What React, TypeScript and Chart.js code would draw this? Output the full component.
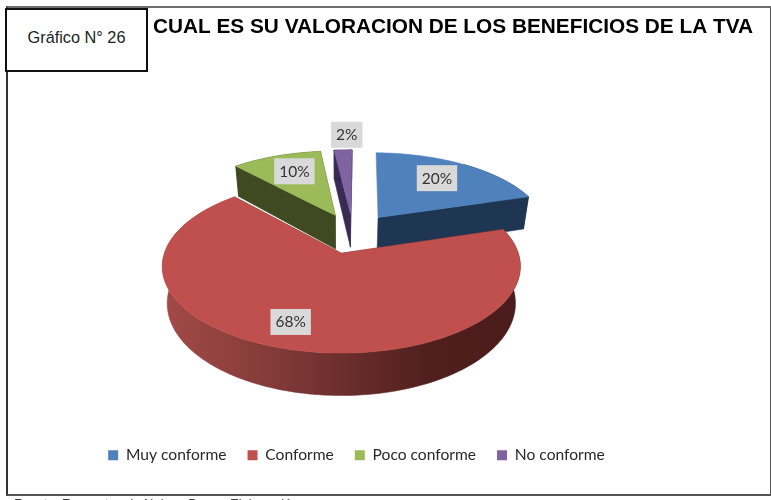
import React, { useEffect, useRef } from "react";
import { Chart, registerables } from "chart.js";

Chart.register(...registerables);

const categories = ["Muy conforme", "Conforme", "Poco conforme", "No conforme"];
const percentages = [20, 68, 10, 2];
const topColors = ["#4f81bd", "#c0504d", "#9bbb59", "#8064a2"];
const wallColors = ["#1f3652", "#5a2422", "#3f4a22", "#3a2b55"];
const chartTitle = "CUAL ES SU VALORACION DE LOS BENEFICIOS DE LA TVA";
const figureLabel = "Gráfico N° 26";
const sourceNote = "Fuente: Encuestas de Nelson Barros Elaboración";
const labelRadii = [0.72, 0.75, 0.72, 1.28];
const labelNudgeU = [-0.03, -0.055, 0.02, 0.04];

// Perspective of the pie plane, as seen in the picture
const ORIGIN_X = 342;
const ORIGIN_Y = 253.5;
const AXIS_X = 177;
const AXIS_Y = 84.7;
const PERSPECTIVE = 0.153;
const CENTER_U = 0.064;
const CENTER_V = -0.25;
const DEPTH = 36;
const BASE_SHRINK = 0.973;

type Pt = [number, number];

function top(u: number, v: number): Pt {
  const w = 1 - PERSPECTIVE * v;
  return [ORIGIN_X + (AXIS_X * u) / w, ORIGIN_Y + (AXIS_Y * v) / w];
}
function bottom(u: number, v: number): Pt {
  const w = 1 - PERSPECTIVE * v;
  const p = top(u, v);
  return [ORIGIN_X + (p[0] - ORIGIN_X) * BASE_SHRINK, p[1] + DEPTH / w];
}

function sliceGeometry(arc: any) {
  const { startAngle, endAngle, outerRadius } = arc.getProps(["startAngle", "endAngle", "outerRadius"], true);
  const mid = (startAngle + endAngle) / 2;
  const e = (arc.options.offset || 0) / 4 / outerRadius;
  const au = CENTER_U + Math.cos(mid) * e;
  const av = CENTER_V + Math.sin(mid) * e;
  return { startAngle, endAngle, mid, au, av };
}

function fillPoly(ctx: CanvasRenderingContext2D, pts: Pt[], fill: string | CanvasGradient) {
  ctx.beginPath();
  pts.forEach((p, i) => (i ? ctx.lineTo(p[0], p[1]) : ctx.moveTo(p[0], p[1])));
  ctx.closePath();
  ctx.fillStyle = fill;
  ctx.fill();
  ctx.strokeStyle = fill as any;
  ctx.lineWidth = 0.5;
  ctx.stroke();
}

const pie3d = {
  id: "pie3d",
  beforeDatasetDraw(chart: any) {
    const ctx: CanvasRenderingContext2D = chart.ctx;
    const arcs = chart.getDatasetMeta(0).data;
    const order = arcs
      .map((arc: any, i: number) => ({ i, g: sliceGeometry(arc) }))
      .sort((a: any, b: any) => a.g.av - b.g.av);
    ctx.save();
    for (const { i, g } of order) {
      const n = 160;
      const rimTop: Pt[] = [];
      const rimBottom: Pt[] = [];
      for (let k = 0; k <= n; k++) {
        const t = g.startAngle + ((g.endAngle - g.startAngle) * k) / n;
        const u = g.au + Math.cos(t);
        const v = g.av + Math.sin(t);
        rimTop.push(top(u, v));
        rimBottom.push(bottom(u, v));
      }
      const apexTop = top(g.au, g.av);
      const apexBottom = bottom(g.au, g.av);
      // radial walls: the first slice's leading wall faces away from the viewer
      if (i !== 0) fillPoly(ctx, [apexTop, rimTop[0], rimBottom[0], apexBottom], wallColors[i]);
      fillPoly(ctx, [apexTop, rimTop[n], rimBottom[n], apexBottom], wallColors[i]);
      // curved wall (the back half of the first slice is hidden under its top face)
      let wallFill: string | CanvasGradient = wallColors[i];
      if (i === 1) {
        const grad = ctx.createLinearGradient(ORIGIN_X - 180, 0, ORIGIN_X + 180, 0);
        grad.addColorStop(0, "#a34a47");
        grad.addColorStop(0.3, "#843b39");
        grad.addColorStop(0.55, "#652b2a");
        grad.addColorStop(0.75, "#4f1f1d");
        grad.addColorStop(1, "#4a1c1b");
        wallFill = grad;
      }
      const from = i === 0 ? n / 2 : 0;
      fillPoly(ctx, [...rimTop.slice(from), ...rimBottom.slice(from).reverse()], wallFill);
      // top face
      fillPoly(ctx, [apexTop, ...rimTop], topColors[i]);
    }
    ctx.restore();
    return false;
  },
  afterDatasetsDraw(chart: any) {
    const ctx: CanvasRenderingContext2D = chart.ctx;
    const arcs = chart.getDatasetMeta(0).data;
    ctx.save();
    ctx.font = '15.5px Lato, "Open Sans", sans-serif';
    ctx.textAlign = "center";
    ctx.textBaseline = "middle";
    arcs.forEach((arc: any, i: number) => {
      const g = sliceGeometry(arc);
      const r = labelRadii[i];
      const p = top(g.au + Math.cos(g.mid) * r + labelNudgeU[i], g.av + Math.sin(g.mid) * r);
      const text = `${percentages[i]}%`;
      const w = ctx.measureText(text).width + 10;
      ctx.fillStyle = "#d9d9d9";
      ctx.fillRect(p[0] - w / 2, p[1] - 13, w, 26);
      ctx.fillStyle = "#333333";
      ctx.fillText(text, p[0], p[1] + 0.5);
    });
    ctx.restore();
  },
  afterLayout(chart: any) {
    // legend sits off-centre in the picture
    chart.legend.left -= 20;
    chart.legend.right -= 20;
  },
};

export default function App() {
  const ref = useRef<HTMLCanvasElement>(null);
  useEffect(() => {
    const chart = new Chart(ref.current as HTMLCanvasElement, {
      type: "pie",
      data: {
        labels: categories,
        datasets: [
          {
            data: percentages,
            backgroundColor: topColors,
            borderWidth: 0,
            offset: 128,
          },
        ],
      },
      options: {
        responsive: false,
        animation: false,
        rotation: 1,
        layout: { padding: { top: 0, right: 18, left: 0, bottom: 27 } },
        plugins: {
          title: {
            display: true,
            text: chartTitle,
            align: "end",
            color: "#000000",
            font: { family: '"Liberation Sans", Arial, sans-serif', size: 20.8, weight: "bold" },
            padding: { top: 15, bottom: 8 },
          },
          legend: {
            display: true,
            position: "bottom",
            labels: {
              boxWidth: 10,
              boxHeight: 10,
              padding: 21,
              color: "#2a2a2a",
              font: { family: 'Lato, "Open Sans", sans-serif', size: 15.6 },
            },
          },
          tooltip: { enabled: false },
        },
      },
      plugins: [pie3d],
    } as any);
    return () => chart.destroy();
  }, []);

  return (
    <div style={{ position: "fixed", left: 0, top: 0, width: 771, height: 500, overflow: "hidden", background: "#fff" }}>
      <div
        style={{
          position: "absolute",
          left: 6,
          top: 6,
          width: 762,
          height: 486,
          borderTop: "2px solid #6e6e6e",
          borderLeft: "2px solid #333",
          borderRight: "2px solid #555",
          borderBottom: "2px solid #555",
        }}
      />
      <canvas ref={ref} width={771} height={500} style={{ position: "absolute", left: 0, top: 0, width: 771, height: 500 }} />
      <div
        style={{
          position: "absolute",
          left: 5,
          top: 8,
          width: 139,
          height: 55,
          paddingBottom: 5,
          border: "2px solid #111",
          background: "#fff",
          display: "flex",
          alignItems: "center",
          justifyContent: "center",
          font: '16.3px "Liberation Sans", Arial, sans-serif',
          color: "#222",
        }}
      >
        {figureLabel}
      </div>
      <div
        style={{
          position: "absolute",
          left: 14,
          top: 496,
          font: '13px "Liberation Sans", Arial, sans-serif',
          color: "#444",
          whiteSpace: "nowrap",
        }}
      >
        {sourceNote}
      </div>
    </div>
  );
}
